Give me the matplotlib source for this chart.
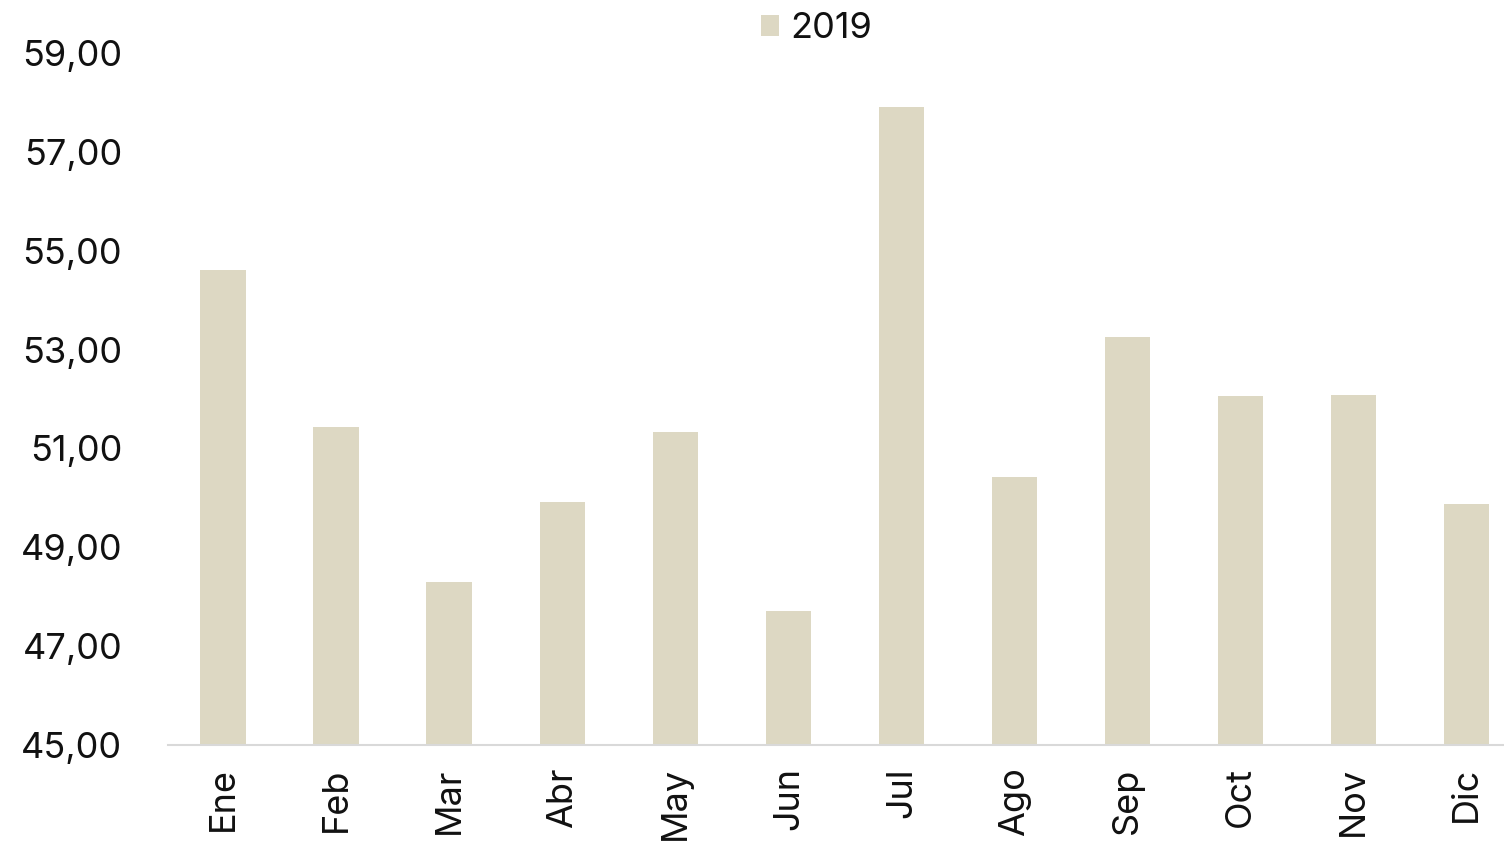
import matplotlib.pyplot as plt
from matplotlib.ticker import FuncFormatter

plt.rcParams['font.family'] = ['Inter', 'DejaVu Sans']

# datos mensuales 2019
meses = ['Ene', 'Feb', 'Mar', 'Abr', 'May', 'Jun', 'Jul', 'Ago', 'Sep', 'Oct', 'Nov', 'Dic']
valores_2019 = [54.61, 51.43, 48.30, 49.92, 51.33, 47.71, 57.91, 50.42, 53.25, 52.06, 52.08, 49.88]
yticks = [45, 47, 49, 51, 53, 55, 57, 59]

color_barra = '#ddd8c3'

fig = plt.figure(figsize=(15.04, 8.47), dpi=100)
ax = fig.add_axes([0.1117, 0.1204, 0.8883, 0.8170])

x = range(len(meses))
ax.bar(x, valores_2019, width=0.4, color=color_barra, label='2019', zorder=2)

ax.set_ylim(45, 59)
ax.set_xlim(-0.486, 11.33)
ax.set_yticks(yticks)
ax.yaxis.set_major_formatter(FuncFormatter(lambda v, p: f'{v:.2f}'.replace('.', ',')))
ax.set_xticks(list(x))
ax.set_xticklabels(meses, rotation=90)

ax.tick_params(axis='y', length=0, pad=33, labelsize=26, colors='#111111')
ax.tick_params(axis='x', length=0, pad=16, labelsize=26, colors='#111111')

for s in ['top', 'right', 'left']:
    ax.spines[s].set_visible(False)
ax.spines['bottom'].set_color('#d9d9d9')
ax.spines['bottom'].set_linewidth(1.5)
ax.spines['bottom'].set_zorder(3)

fig.legend(loc='upper center', bbox_to_anchor=(0.543, 1.024), frameon=False,
           fontsize=26, handlelength=0.5, handleheight=0.5, handletextpad=0.3,
           labelcolor='#111111')

fig.savefig('out.png', dpi=100)
